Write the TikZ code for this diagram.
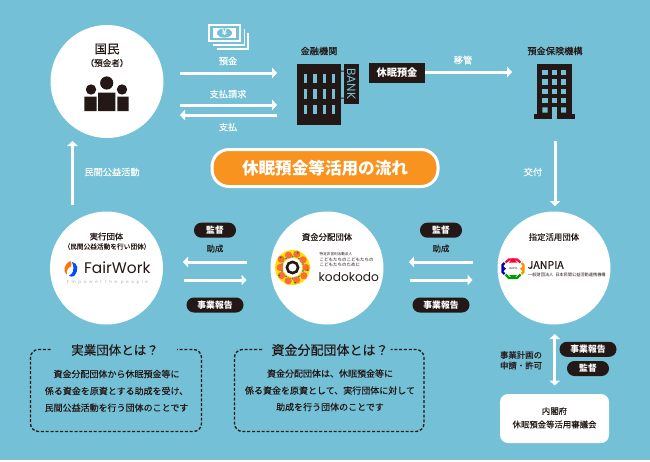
\documentclass[tikz,border=0pt]{standalone}
\usepackage{fontspec}
\setmainfont{Noto Sans CJK JP}
\newfontfamily\latinlogo{Poppins}
\newfontfamily\sparselogo[LetterSpace=60]{Poppins}
\newfontfamily\med[FakeBold=0.12]{Noto Sans CJK JP}
\usetikzlibrary{arrows.meta}
\definecolor{bgblue}{HTML}{74C0D6}
\definecolor{ink}{HTML}{231815}
\definecolor{orangepill}{HTML}{F7931E}
\newcommand{\fsz}[1]{\fontsize{#1}{#1}\selectfont}
\tikzset{
  x=1pt,y=-1pt,
  disc/.style={circle,fill=white,draw=none,minimum size=113pt,inner sep=0pt},
  lab/.style={text=ink,inner sep=0pt,font=\med\fsz{8.4}},
  toplab/.style={text=ink,inner sep=0pt,font=\med\fsz{9.2}},
  wlab/.style={text=white,inner sep=0pt,font=\med\fsz{9.2}},
  pill/.style={fill=ink,text=white,rounded corners=7.4pt,inner sep=0pt,minimum height=15pt,font=\bfseries\fsz{8.8}},
  flow/.style={draw=white,line width=3pt,-{Triangle[length=5pt,width=10.5pt]}},
  flowboth/.style={draw=white,line width=3pt,{Triangle[length=5pt,width=10.5pt]}-{Triangle[length=5pt,width=10.5pt]}},
  dashbox/.style={draw=ink,line width=1.3pt,dash pattern=on 3pt off 1.8pt,rounded corners=8pt},
  body/.style={text=ink,inner sep=0pt,font=\med\fsz{9}},
}
\begin{document}
\begin{tikzpicture}
\useasboundingbox (0,0) rectangle (650,461);
\fill[white] (0,0) rectangle (650,461);
\fill[bgblue] (0,0) rectangle (650,460);

% discs
\node[disc] (citizen) at (107,81.5) {};
\node[disc] (doer) at (106.5,268) {};
\node[disc] (fund) at (327,268) {};
\node[disc] (desig) at (554,268) {};

% citizen
\node[text=ink,inner sep=0pt,font=\med\fsz{12.5}] (citizenT) at (107,49) {国民};
\node[text=ink,inner sep=0pt,font=\med\fsz{8.6}] (citizenS) at (107,63) {（預金者）};
\fill[ink] (106.7,83) circle (6.6) (91,89.5) circle (5.2) (122,89.5) circle (5.2);
\fill[ink] (98,92.7) rectangle (115.3,111) (84.3,96.7) rectangle (96.7,111) (117.3,96.7) rectangle (128.7,111);

% money icon
\draw[white,line width=1.7pt] (208.8,24.8) rectangle (240,41.2);
\fill[white] (213,28.3) rectangle (236,37.8);
\fill[bgblue] (224.5,33) ellipse (7.5 and 4.6);
\node[text=white,inner sep=0pt,font=\fsz{8}\bfseries] (yen) at (224.5,33) {¥};
\draw[white,line width=1.5pt] (212.5,45) -- (244.5,45) -- (244.5,28.5);
\draw[white,line width=1.5pt] (216.5,49.2) -- (248,49.2) -- (248,32.5);

% top-left arrows
\coordinate (d1a) at (180,73); \coordinate (d1b) at (277,73);
\coordinate (d2a) at (180,105); \coordinate (d2b) at (277,105);
\coordinate (d3a) at (277,115); \coordinate (d3b) at (180,115);
\draw[flow] (d1a) -- (d1b);
\draw[flow] (d2a) -- (d2b);
\draw[flow] (d3a) -- (d3b);
\node[wlab] (depositL) at (228,61) {預金};
\node[wlab] (claimL) at (228,94) {支払請求};
\node[wlab] (payL) at (228,127) {支払};

% bank
\node[toplab] (bankT) at (319,51) {金融機関};
\fill[ink] (297.3,64) rectangle (341,124.7);
\foreach \x in {304,313.4,322.7,332}
  \foreach \y/\h in {74/8.7,89.3/9.3,105.3/8.7}
    \fill[bgblue] (\x,\y) rectangle (\x+3.4,\y+\h);
\fill[ink] (341,70.5) rectangle (344.5,71.5) (341,97.5) rectangle (344.5,98.5);
\fill[ink] (344.3,64) rectangle (358.5,104);
\node[rotate=-90,text=bgblue,inner sep=0pt,font=\latinlogo\fsz{12}] (bankS) at (351.4,84) {BANK};

% dormant box
\node[fill=ink,text=white,inner sep=0pt,minimum width=56pt,minimum height=20pt,font=\bfseries\fsz{10.2}] (dormant) at (397,73) {休眠預金};
\coordinate (insE) at (512,72);
\draw[flow] (dormant.east |- insE) -- (insE);
\node[wlab] (transL) at (463,60) {移管};

% insurance building
\node[toplab] (insT) at (555,51) {預金保険機構};
\fill[ink] (537.3,64) rectangle (572,116);
\fill[ink] (534.3,114.3) rectangle (575,118.7);
\foreach \x in {542.3,552,561}
  \foreach \y in {70,79.3,88.7,98}
    \fill[bgblue] (\x,\y) rectangle (\x+5.2,\y+5.3);
\fill[bgblue] (542.3,107.3) rectangle (547.5,112.7) (561,107.3) rectangle (566.2,112.7);
\fill[bgblue] (552,107.3) rectangle (557.2,118.7);

% title pill
\node[fill=orangepill,draw=white,line width=3pt,text=white,rounded corners=17pt,minimum width=226pt,minimum height=37pt,inner sep=0pt,font=\bfseries\fsz{16.6}] (title) at (325,168) {休眠預金等活用の流れ};

% vertical arrows
\coordinate (gA) at (555,141); \coordinate (gB) at (555,206);
\draw[flow] (gA) -- (gB);
\node[wlab] (grantL) at (533,172) {交付};
\coordinate (aA) at (72.5,205); \coordinate (aB) at (72.5,141);
\draw[flow] (aA) -- (aB);
\node[wlab] (actL) at (112,172) {民間公益活動};

% doer
\node[lab] (doerT) at (106.5,236.5) {実行団体};
\node[text=ink,inner sep=0pt,font=\med\fsz{6.7}] (doerS) at (107,246.5) {（民間公益活動を行い団体）};
\fill[orange!90!red] (70.5,261) .. controls (64,264) and (62.5,271) .. (67,275) .. controls (65.5,270) and (69,267) .. (71,266.5) .. controls (72,265) and (71.5,262.5) .. (70.5,261);
\fill[blue!70!cyan] (72,262) .. controls (78,263) and (79.5,270) .. (74,276) .. controls (72.5,277) and (70,277) .. (69,275.5) .. controls (73,274) and (75,270) .. (72,262);
\node[text=ink,inner sep=0pt,anchor=west,font=\latinlogo\fsz{15.4}] (fairwork) at (84,268) {FairWork};
\node[text=ink!35,inner sep=0pt,font=\sparselogo\fsz{4.2}] (fairsub) at (107.5,282) {Empower the people};

% fund
\node[lab] (fundT) at (327,237) {資金分配団体};
\fill[yellow!85!orange] (292.5,267.5) circle (17.5);
\foreach \a/\r in {0/13.5,36/14,72/13,108/14,144/13.5,180/12.5,216/14,252/13,288/14,324/13}
  \fill[red!45!orange!80!white] (292.5,267.5) ++(\a:\r) circle (3.6);
\foreach \a in {18,54,90,126,162,198,234,270,306,342}
  \fill[teal!70!cyan] (292.5,267.5) ++(\a:11) circle (1.1);
\foreach \a in {10,80,150,220,290}
  \fill[green!55!black] (292.5,267.5) ++(\a:15.5) circle (1);
\fill[white] (292.5,267.5) circle (9.5);
\draw[ink,line width=2.6pt] (292.5,267.5) circle (5.6);
\node[text=ink,inner sep=0pt,anchor=west,font=\fsz{3.6}] (fundA) at (319.5,254.5) {特定非営利活動法人};
\node[text=ink,inner sep=0pt,anchor=west,font=\fsz{4.5}] (fundB) at (319.5,259.5) {こどもたちのこどもたちの};
\node[text=ink,inner sep=0pt,anchor=west,font=\fsz{4.5}] (fundC) at (319.5,265) {こどもたちのために};
\node[text=ink,inner sep=0pt,anchor=west,font=\latinlogo\fsz{12.2}] (kodo) at (318.5,277) {kodokodo};

% designated
\node[lab] (desigT) at (554,237) {指定活用団体};
\begin{scope}[line width=2.2pt]
\draw[red!80!magenta] (505.5,262.5) -- (509,259.5) -- (517,259.5) -- (520.5,262.5);
\draw[orange!85!yellow] (521.5,263) -- (523.5,265) -- (523.5,272) -- (521.5,274);
\draw[green!60!black] (520.5,274.5) -- (517,278) -- (509,278) -- (505.5,274.5);
\draw[blue!70!black] (504.5,274) -- (502.5,272) -- (502.5,265) -- (504.5,263);
\end{scope}
\fill[red!80!magenta] (513,258) -- (509,262.5) -- (517,262.5) -- cycle;
\fill[orange!85!yellow] (520,268.7) -- (524,265) -- (524,272.4) -- cycle;
\fill[green!60!black] (513,279) -- (509,275) -- (517,275) -- cycle;
\fill[blue!70!black] (506,268.7) -- (502,265) -- (502,272.4) -- cycle;
\node[text=ink,inner sep=0pt,font=\fsz{2.6}] (janpiaM) at (513,268.7) {JANPIA};
\node[text=ink,inner sep=0pt,anchor=west,font=\med\fsz{10.6}] (janpia) at (527.5,265) {JANPIA};
\node[text=ink,inner sep=0pt,anchor=west,font=\fsz{4.2}] (janpiaS) at (528,274.5) {一般財団法人\ \ 日本民間公益活動連携機構};

% left middle
\node[pill,minimum width=42pt] (audit1) at (215,230.2) {監督};
\node[lab] (aid1) at (215,248.5) {助成};
\coordinate (l1a) at (246.5,262); \coordinate (l1b) at (183,262);
\coordinate (l2a) at (184,280); \coordinate (l2b) at (246.5,280);
\draw[flow] (l1a) -- (l1b);
\draw[flow] (l2a) -- (l2b);
\node[pill,minimum width=57pt] (rep1) at (215,305) {事業報告};

% right middle
\node[pill,minimum width=42pt] (audit2) at (441,230.2) {監督};
\node[lab] (aid2) at (441,248.5) {助成};
\coordinate (r1a) at (472.5,262); \coordinate (r1b) at (409,262);
\coordinate (r2a) at (409.5,280); \coordinate (r2b) at (472.5,280);
\draw[flow] (r1a) -- (r1b);
\draw[flow] (r2a) -- (r2b);
\node[pill,minimum width=57pt] (rep2) at (441,305) {事業報告};

% dashed box 1
\draw[dashbox] (50.7,349.5) -- (30.5,349.5) -- (30.5,431.5) -- (201.5,431.5) -- (201.5,349.5) -- (177,349.5);
\node[text=ink,inner sep=0pt,font=\med\fsz{12.5}] (box1T) at (115,350) {実業団体とは？};
\node[body] (b1a) at (116.5,374) {資金分配団体から休眠預金等に};
\node[body] (b1b) at (116.5,391) {係る資金を原資とする助成を受け、};
\node[body] (b1c) at (116.5,407.7) {民間公益活動を行う団体のことです};

% dashed box 2
\draw[dashbox] (262,349.5) -- (234.5,349.5) -- (234.5,431.5) -- (424,431.5) -- (424,349.5) -- (390.7,349.5);
\node[text=ink,inner sep=0pt,font=\med\fsz{13}] (box2T) at (330,350) {資金分配団体とは？};
\node[body] (b2a) at (330,373.5) {資金分配団体は、休眠預金等に};
\node[body] (b2b) at (330,390.5) {係る資金を原資として、実行団体に対して};
\node[body] (b2c) at (330,407) {助成を行う団体のことです};

% bottom right
\coordinate (cA) at (554.7,334); \coordinate (cB) at (554.7,385.5);
\draw[flowboth] (cA) -- (cB);
\node[lab] (plan1) at (521,355) {事業計画の};
\node[lab] (plan2) at (521,365.5) {申請・許可};
\node[pill,minimum width=57pt] (rep3) at (588,349.3) {事業報告};
\node[pill,minimum width=42pt] (audit3) at (588,368.5) {監督};
\node[fill=white,rounded corners=8pt,minimum width=109pt,minimum height=49pt,inner sep=0pt] (council) at (554.5,418.5) {};
\node[lab] (c1) at (554.5,411) {内閣府};
\node[lab] (c2) at (554.5,424.5) {休眠預金等活用審議会};
\end{tikzpicture}
\end{document}
